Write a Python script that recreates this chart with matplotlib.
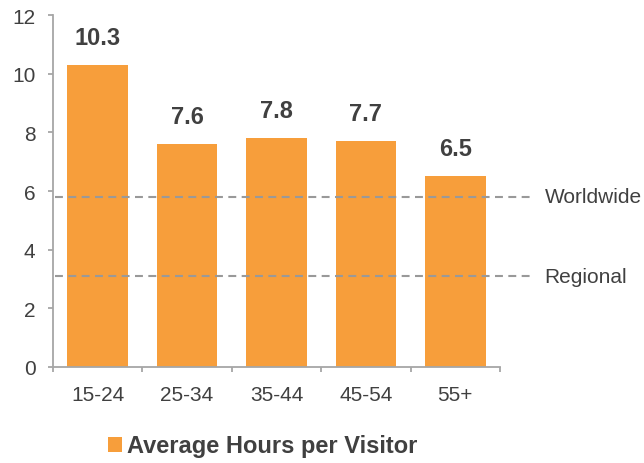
import matplotlib.pyplot as plt
from matplotlib.patches import Patch

plt.rcParams['font.family'] = ['Liberation Sans', 'DejaVu Sans']

# data
ages = ['15-24', '25-34', '35-44', '45-54', '55+']
hours = [10.3, 7.6, 7.8, 7.7, 6.5]
worldwide = 5.8
regional = 3.1

orange = '#F79E3B'
txt = '#404040'
axgrey = '#A6A6A6'

fig = plt.figure(figsize=(6.44, 4.64), dpi=100)
ax = fig.add_axes([53/644, 96/464, 447/644, 352/464])

x = range(len(ages))
ax.bar(x, hours, width=0.68, color=orange, zorder=2)

for i, v in zip(x, hours):
    ax.annotate(f'{v:.1f}', (i, v), xytext=(0, 20), textcoords='offset points',
                ha='center', va='center', fontsize=17, fontweight='bold', color=txt)

# reference lines
for val, name in [(worldwide, 'Worldwide'), (regional, 'Regional')]:
    ax.plot([-0.48, 4.87], [val, val], ls=(0, (3.8, 2.6)), color='#999999', lw=1.5,
            clip_on=False, zorder=3)
    ax.text(5.0, val, name, ha='left', va='center', fontsize=15, color=txt)

ax.set_xlim(-0.5, 4.5)
ax.set_ylim(0, 12)
ax.set_yticks(range(0, 13, 2))
ax.set_xticks(list(x))
ax.set_xticklabels(ages)
ax.set_xticks([i - 0.5 for i in range(len(ages) + 1)], minor=True)
ax.tick_params(axis='x', which='major', length=0, pad=13, labelsize=15, colors=txt)
ax.tick_params(axis='x', which='minor', length=3.6, width=1.3, color=axgrey, direction='out')
ax.tick_params(axis='y', length=3.6, width=1.3, color=axgrey, pad=9, labelsize=15, labelcolor=txt)

for s in ['top', 'right']:
    ax.spines[s].set_visible(False)
for s in ['left', 'bottom']:
    ax.spines[s].set_color(axgrey)
    ax.spines[s].set_linewidth(1.3)

handle = Patch(facecolor=orange, edgecolor='none')
leg = fig.legend([handle], ['Average Hours per Visitor'], loc='center',
                 bbox_to_anchor=(0.408, 0.037), frameon=False,
                 handlelength=0.6, handleheight=0.6, handletextpad=0.2,
                 prop={'size': 17, 'weight': 'bold'})
for t in leg.get_texts():
    t.set_color(txt)

fig.savefig('out.png', dpi=100)
